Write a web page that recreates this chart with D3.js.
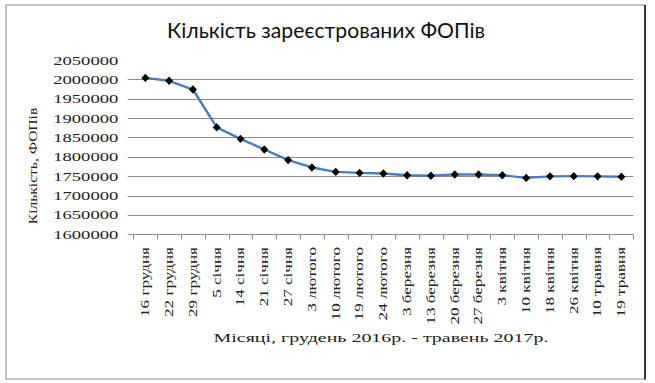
<!DOCTYPE html>
<html>
<head>
<meta charset="utf-8">
<script src="https://cdn.jsdelivr.net/npm/d3@7"></script>
<style>
  html, body { margin: 0; padding: 0; background: #fff; }
  svg { display: block; }
</style>
</head>
<body>
<svg id="chart" width="655" height="383"></svg>
<script>
const chartTitle = "Кількість зареєстрованих ФОПів";
const yTitle = "Кількість, ФОПів";
const xTitle = "Місяці, грудень 2016р. - травень 2017р.";
const categories = ["16 грудня","22 грудня","29 грудня","5 січня","14 січня","21 січня","27 січня","3 лютого","10 лютого","19 лютого","24 лютого","3 березня","13 березня","20 березня","27 березня","3 квітня","10 квітня","18 квітня","26 квітня","10 травня","19 травня"];
const values = [2004000,1996500,1974000,1876000,1846500,1819000,1791500,1772500,1761000,1758500,1757000,1752500,1751000,1754500,1754500,1752500,1745500,1749500,1750000,1749500,1748500];
const yTicks = [1600000,1650000,1700000,1750000,1800000,1850000,1900000,1950000,2000000,2050000];
const gridTicks = [1600000,1650000,1700000,1750000,1800000,1850000,1900000,1950000,2000000];

const svg = d3.select("#chart");
const plot = { left: 133.4, right: 633.3, top: 60.1, bottom: 234.2 };

const x = d3.scaleBand().domain(categories).range([plot.left, plot.right]);
const y = d3.scaleLinear().domain([1600000, 2050000]).range([plot.bottom, plot.top]);

function stretch(sel, factor) {
  sel.each(function () {
    const L = this.getComputedTextLength();
    this.setAttribute("textLength", L * factor);
    this.setAttribute("lengthAdjust", "spacingAndGlyphs");
  });
}

const serif = "'Liberation Serif', 'Times New Roman', serif";
const textCol = "#222";

// outer frame
svg.append("rect").attr("x", 6).attr("y", 5).attr("width", 639).attr("height", 374)
  .attr("fill", "#fff").attr("stroke", "#8a8a8a").attr("stroke-width", 1);
svg.append("line").attr("x1", 645).attr("x2", 645).attr("y1", 5).attr("y2", 379.5)
  .attr("stroke", "#111").attr("stroke-width", 1.6);

// title
svg.append("text").attr("x", 326).attr("y", 37.5).attr("text-anchor", "middle")
  .attr("font-family", "Lato, 'Open Sans', sans-serif").attr("font-size", 21)
  .attr("fill", "#111").attr("textLength", 318).attr("lengthAdjust", "spacingAndGlyphs")
  .text(chartTitle);

// gridlines (with outward tick stubs)
svg.append("g").selectAll("line").data(gridTicks).join("line")
  .attr("x1", plot.left - 5.7).attr("x2", plot.right)
  .attr("y1", d => Math.round(y(d)) + 0.5).attr("y2", d => Math.round(y(d)) + 0.5)
  .attr("stroke", "#8c8c8c").attr("stroke-width", 1);

// y tick labels
const yl = svg.append("g").selectAll("text").data(yTicks).join("text")
  .attr("x", 118.3).attr("y", d => y(d)).attr("dy", "0.35em")
  .attr("text-anchor", "end")
  .attr("font-family", serif)
  .attr("font-size", 13).attr("fill", textCol)
  .text(d => String(d));
stretch(yl, 1.43);

// x axis ticks
const xt = categories.map(c => x(c)).concat([plot.right]);
svg.append("g").selectAll("line").data(xt).join("line")
  .attr("x1", d => Math.round(d) + 0.5).attr("x2", d => Math.round(d) + 0.5)
  .attr("y1", Math.round(plot.bottom) + 0.5).attr("y2", Math.round(plot.bottom) + 5.5)
  .attr("stroke", "#8c8c8c").attr("stroke-width", 1);

// x tick labels
const xl = svg.append("g").selectAll("text").data(categories).join("text")
  .attr("transform", d => `translate(${x(d) + x.bandwidth() / 2},247) rotate(-90)`)
  .attr("dy", "0.33em")
  .attr("text-anchor", "end")
  .attr("font-family", serif)
  .attr("font-size", 11.8).attr("fill", textCol)
  .text(d => d);
stretch(xl, 1.45);

// line
const line = d3.line()
  .x((d, i) => x(categories[i]) + x.bandwidth() / 2)
  .y(d => y(d));
svg.append("path").datum(values).attr("d", line)
  .attr("fill", "none").attr("stroke", "#4a7ebb").attr("stroke-width", 2.4)
  .attr("stroke-linejoin", "round");

// markers (diamonds)
svg.append("g").selectAll("path").data(values).join("path")
  .attr("transform", (d, i) => `translate(${x(categories[i]) + x.bandwidth() / 2},${y(d)})`)
  .attr("d", "M0,-4.2L4,0L0,4.2L-4,0Z")
  .attr("fill", "#000");

// axis titles
const yt = svg.append("text")
  .attr("transform", "translate(37,166) rotate(-90)")
  .attr("text-anchor", "middle")
  .attr("font-family", serif)
  .attr("font-size", 13.5).attr("fill", textCol)
  .text(yTitle);
stretch(yt, 1.15);

svg.append("text").attr("x", 381).attr("y", 342).attr("text-anchor", "middle")
  .attr("font-family", serif)
  .attr("font-size", 13.5).attr("fill", textCol)
  .attr("textLength", 335).attr("lengthAdjust", "spacingAndGlyphs")
  .text(xTitle);
</script>
</body>
</html>
